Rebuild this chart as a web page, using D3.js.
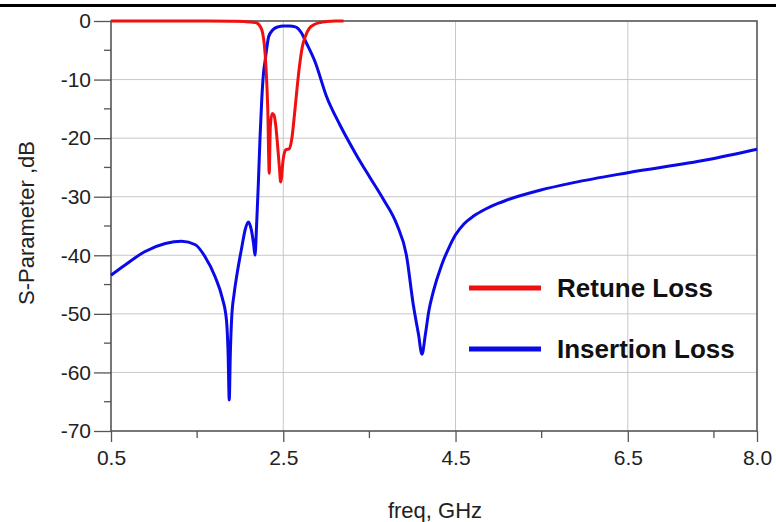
<!DOCTYPE html>
<html lang="en">
<head>
<meta charset="UTF-8">
<title>S-Parameter</title>
<script src="https://d3js.org/d3.v7.min.js"></script>
<style>
  body { margin: 0; background: #fff; }
  svg { display: block; font-family: Arial, "Liberation Sans", sans-serif; }
</style>
</head>
<body>
<svg id="chart" width="776" height="522"></svg>
<script>
// Return loss (S11)
const rlFreq = [0.5, 1.0, 1.5, 1.9, 2.05, 2.15, 2.2, 2.23, 2.26, 2.28, 2.30, 2.32, 2.337, 2.35, 2.37, 2.39, 2.41, 2.43, 2.455, 2.47, 2.50, 2.53, 2.57, 2.60, 2.63, 2.66, 2.69, 2.72, 2.76, 2.80, 2.86, 2.93, 3.0, 3.1, 3.2];
const rlDb   = [0, 0, 0, -0.05, -0.1, -0.2, -0.4, -0.9, -2, -4, -8, -15, -26, -18, -15.8, -16, -17.5, -20.5, -25, -27.5, -23.5, -22, -21.8, -20, -16, -11.5, -7.5, -4.5, -2.5, -1.3, -0.6, -0.25, -0.1, 0, 0];

// Insertion loss (S21)
const ilFreq = [0.5, 0.66, 0.89, 1.13, 1.32, 1.48, 1.59, 1.71, 1.79, 1.84, 1.86, 1.873, 1.885, 1.90, 1.93, 1.96, 2.02, 2.06, 2.094, 2.13, 2.155, 2.172, 2.19, 2.21, 2.23, 2.25, 2.27, 2.29, 2.31, 2.33, 2.38, 2.44, 2.50, 2.57, 2.64, 2.71, 2.77, 2.87, 3.0, 3.16, 3.35, 3.51, 3.66, 3.82, 3.93, 4.01, 4.07, 4.11, 4.15, 4.19, 4.24, 4.34, 4.42, 4.5, 4.6, 4.71, 4.85, 5.0, 5.09, 5.48, 5.87, 6.5, 7.42, 8.0];
const ilDb   = [-43.4, -41.7, -39.4, -38.0, -37.6, -38.2, -40.2, -43.7, -47.2, -51, -57, -64.7, -57, -51, -46.5, -43.5, -38.5, -35.5, -34.3, -35.7, -38, -40, -35, -28, -20, -13.5, -9, -6.7, -4.5, -2.7, -1.5, -1.0, -0.85, -0.85, -1.0, -2.0, -3.8, -7.0, -12.8, -17.8, -22.9, -26.8, -30.4, -34.8, -40, -48.5, -53.5, -56.9, -53.5, -49.5, -46.3, -41.6, -38.8, -36.5, -34.6, -33.3, -32.1, -31.1, -30.6, -28.9, -27.6, -25.9, -23.7, -21.9];

const xTicks = [0.5, 2.5, 4.5, 6.5, 8.0];
const xMinor = [1.5, 3.5, 5.5, 7.5];
const yTicks = [0, -10, -20, -30, -40, -50, -60, -70];
const yMinor = [-5, -15, -25, -35, -45, -55, -65];

const legendItems = [
  { label: "Retune Loss", color: "#f01010" },
  { label: "Insertion Loss", color: "#0a0ae6" }
];

const svg = d3.select("#chart");
const pLeft = 111, pRight = 757, pTop = 21, pBottom = 431;

const x = d3.scaleLinear().domain([0.5, 8.0]).range([pLeft, pRight]);
const y = d3.scaleLinear().domain([0, -70]).range([pTop, pBottom]);

// thick rule at the very top of the image
svg.append("line")
  .attr("x1", 0).attr("x2", 776).attr("y1", 5.5).attr("y2", 5.5)
  .attr("stroke", "#000").attr("stroke-width", 3);

// grid
const grid = svg.append("g").attr("stroke", "#c8c8c8").attr("stroke-width", 1);
grid.selectAll(".gy").data(yTicks.slice(1, -1)).enter().append("line")
  .attr("x1", pLeft).attr("x2", pRight)
  .attr("y1", d => y(d)).attr("y2", d => y(d));
grid.selectAll(".gx").data(xTicks.slice(1, -1)).enter().append("line")
  .attr("y1", pTop).attr("y2", pBottom)
  .attr("x1", d => x(d)).attr("x2", d => x(d));

// y axis: long outer ticks, short minors
const yAxis = d3.axisLeft(y).tickValues(yTicks).tickSize(17).tickPadding(3)
  .tickFormat(d => String(d));
const gy = svg.append("g").attr("transform", `translate(${pLeft},0)`).call(yAxis);
gy.select(".domain").remove();
gy.selectAll(".tick line").attr("stroke", "#555").attr("stroke-width", 1.3);
gy.selectAll("text").attr("font-size", 21).attr("fill", "#222");
svg.append("g").selectAll("line").data(yMinor).enter().append("line")
  .attr("x1", pLeft - 7).attr("x2", pLeft)
  .attr("y1", d => y(d)).attr("y2", d => y(d))
  .attr("stroke", "#555").attr("stroke-width", 1.3);

// x axis
const xAxis = d3.axisBottom(x).tickValues(xTicks).tickSize(11).tickPadding(8)
  .tickFormat(d3.format(".1f"));
const gx = svg.append("g").attr("transform", `translate(0,${pBottom})`).call(xAxis);
gx.select(".domain").remove();
gx.selectAll(".tick line").attr("stroke", "#555").attr("stroke-width", 1.3);
gx.selectAll("text").attr("font-size", 21).attr("fill", "#222");
svg.append("g").selectAll("line").data(xMinor).enter().append("line")
  .attr("x1", d => x(d)).attr("x2", d => x(d))
  .attr("y1", pBottom).attr("y2", pBottom + 7)
  .attr("stroke", "#555").attr("stroke-width", 1.3);

// plot frame
svg.append("rect")
  .attr("x", pLeft).attr("y", pTop)
  .attr("width", pRight - pLeft).attr("height", pBottom - pTop)
  .attr("fill", "none").attr("stroke", "#555").attr("stroke-width", 1.6);

// curves
const line = d3.line()
  .x(d => x(d[0])).y(d => y(d[1]))
  .curve(d3.curveMonotoneX);

svg.append("path")
  .datum(ilFreq.map((f, i) => [f, ilDb[i]]))
  .attr("d", line)
  .attr("fill", "none").attr("stroke", legendItems[1].color).attr("stroke-width", 3);

svg.append("path")
  .datum(rlFreq.map((f, i) => [f, rlDb[i]]))
  .attr("d", line)
  .attr("fill", "none").attr("stroke", legendItems[0].color).attr("stroke-width", 3);

// legend
const lg = svg.append("g").selectAll("g").data(legendItems).enter().append("g")
  .attr("transform", (d, i) => `translate(469,${288 + i * 61})`);
lg.append("line")
  .attr("x1", 0).attr("x2", 72).attr("y1", 0).attr("y2", 0)
  .attr("stroke", d => d.color).attr("stroke-width", 5);
lg.append("text")
  .attr("x", 88).attr("y", 0).attr("dy", "0.35em")
  .attr("font-size", 26).attr("font-weight", "bold").attr("fill", "#111")
  .text(d => d.label);

// axis titles
svg.append("text")
  .attr("x", 435).attr("y", 518)
  .attr("text-anchor", "middle").attr("font-size", 22).attr("fill", "#222")
  .text("freq, GHz");

svg.append("text")
  .attr("transform", "translate(34,223) rotate(-90)")
  .attr("text-anchor", "middle").attr("font-size", 22).attr("fill", "#222")
  .text("S-Parameter ,dB");
</script>
</body>
</html>
